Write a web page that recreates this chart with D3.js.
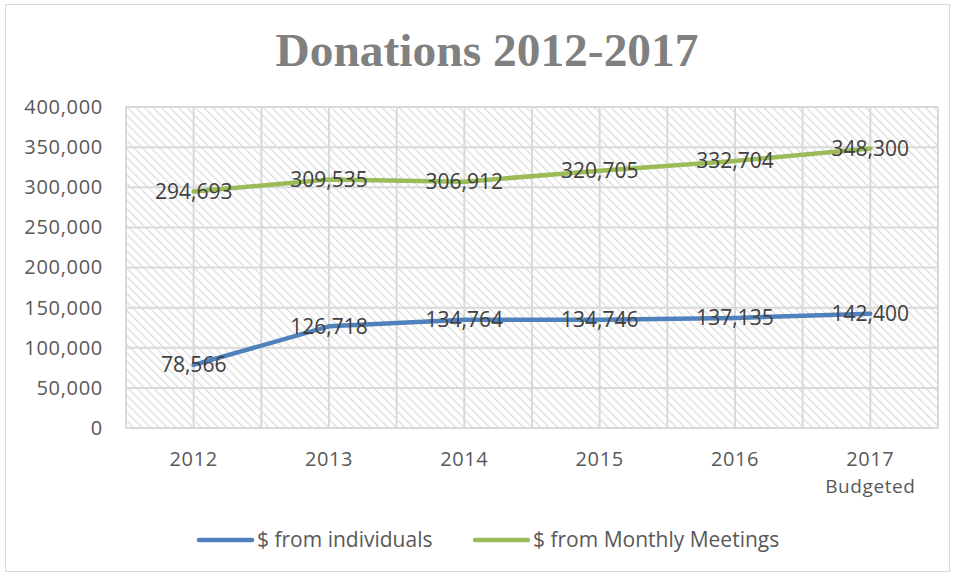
<!DOCTYPE html>
<html>
<head>
<meta charset="utf-8">
<script src="https://cdn.jsdelivr.net/npm/d3@7"></script>
<style>
  body { margin: 0; background: #fff; }
  text { font-family: "Open Sans", "Noto Sans", sans-serif; }
</style>
</head>
<body>
<svg id="chart"></svg>
<script>
const years = ["2012", "2013", "2014", "2015", "2016", "2017"];
const yearSub = ["", "", "", "", "", "Budgeted"];
const individuals = [78566, 126718, 134764, 134746, 137135, 142400];
const meetings = [294693, 309535, 306912, 320705, 332704, 348300];
const seriesNames = ["$ from individuals", "$ from Monthly Meetings"];
const seriesColors = ["#4f81bd", "#9bbb59"];
const yTicks = [0, 50000, 100000, 150000, 200000, 250000, 300000, 350000, 400000];

const width = 954, height = 576;
const margin = { top: 107, right: 16, bottom: 148, left: 126 };
const innerW = width - margin.left - margin.right;
const innerH = height - margin.top - margin.bottom;

const svg = d3.select("#chart").attr("width", width).attr("height", height);

// hatch pattern for plot background
const defs = svg.append("defs");
const pat = defs.append("pattern")
  .attr("id", "hatch")
  .attr("patternUnits", "userSpaceOnUse")
  .attr("width", 6)
  .attr("height", 6)
  .attr("patternTransform", "rotate(-45)");
pat.append("rect").attr("width", 6).attr("height", 6).attr("fill", "#fff");
pat.append("line")
  .attr("x1", 0).attr("y1", 0).attr("x2", 0).attr("y2", 6)
  .attr("stroke", "#dcdcdc").attr("stroke-width", 2.5);

// outer frame
svg.append("rect")
  .attr("x", 5.5).attr("y", 4.5)
  .attr("width", width - 10).attr("height", height - 9)
  .attr("fill", "#fff").attr("stroke", "#d9d9d9");

svg.append("text")
  .attr("x", 487).attr("y", 66)
  .attr("text-anchor", "middle")
  .attr("textLength", 423)
  .attr("lengthAdjust", "spacingAndGlyphs")
  .style("font-family", "'Liberation Serif', 'DejaVu Serif', serif")
  .style("font-weight", "bold")
  .style("font-size", "47px")
  .attr("fill", "#808080")
  .text("Donations 2012-2017");

const g = svg.append("g").attr("transform", `translate(${margin.left},${margin.top})`);

const x = d3.scaleBand().domain(years).range([0, innerW]);
const y = d3.scaleLinear().domain([0, 400000]).range([innerH, 0]);

g.append("rect").attr("width", innerW).attr("height", innerH).attr("fill", "url(#hatch)");

// gridlines: horizontal at ticks, vertical at band edges and centres
g.selectAll(".hgrid").data(yTicks).join("line")
  .attr("x1", 0).attr("x2", innerW)
  .attr("y1", d => y(d)).attr("y2", d => y(d))
  .attr("stroke", "#d9d9d9").attr("stroke-width", 2);

const vLines = [];
years.forEach(yr => {
  vLines.push(x(yr));
  vLines.push(x(yr) + x.bandwidth() / 2);
});
vLines.push(innerW);
g.selectAll(".vgrid").data(vLines).join("line")
  .attr("x1", d => d).attr("x2", d => d)
  .attr("y1", 0).attr("y2", innerH)
  .attr("stroke", "#d9d9d9").attr("stroke-width", 2);

// y axis labels
const yAxis = g.append("g")
  .call(d3.axisLeft(y).tickValues(yTicks).tickFormat(d3.format(",")).tickSize(0).tickPadding(23));
yAxis.select(".domain").remove();
yAxis.selectAll("text").style("font-size", "20px").attr("fill", "#595959")
  .style("letter-spacing", "0.7px")
  .style("font-family", "'Open Sans', sans-serif");

// x axis labels
const xAxis = g.append("g")
  .attr("transform", `translate(0,${innerH})`)
  .call(d3.axisBottom(x).tickSize(0).tickPadding(24));
xAxis.select(".domain").remove();
xAxis.selectAll("text").style("font-size", "20px").attr("fill", "#595959")
  .style("letter-spacing", "0.6px")
  .style("font-family", "'Open Sans', sans-serif");
xAxis.selectAll(".tick").append("text")
  .attr("y", 65).attr("fill", "#595959")
  .attr("text-anchor", "middle")
  .style("font-size", "19px")
  .style("letter-spacing", "0.6px")
  .style("font-family", "'Open Sans', sans-serif")
  .text((d, i) => yearSub[i]);

const cx = d => x(d) + x.bandwidth() / 2;
const line = d3.line().x(d => cx(d.year)).y(d => y(d.value));

[individuals, meetings].forEach((vals, si) => {
  const pts = years.map((yr, i) => ({ year: yr, value: vals[i] }));
  g.append("path").datum(pts)
    .attr("fill", "none")
    .attr("stroke", seriesColors[si])
    .attr("stroke-width", 4.5)
    .attr("stroke-linecap", "round")
    .attr("stroke-linejoin", "round")
    .attr("d", line);
  g.selectAll(".lbl" + si).data(pts).join("text")
    .attr("x", d => cx(d.year))
    .attr("y", d => y(d.value))
    .attr("dy", "0.35em")
    .attr("text-anchor", "middle")
    .style("font-size", "21px")
    .attr("fill", "#404040")
    .text(d => d3.format(",")(d.value));
});

// legend
const legend = svg.append("g").attr("transform", "translate(199,540)");
const legendX = [0, 276];
seriesNames.forEach((name, i) => {
  const lg = legend.append("g").attr("transform", `translate(${legendX[i]},0)`);
  lg.append("line").attr("x1", 0).attr("x2", 53).attr("y1", 0).attr("y2", 0)
    .attr("stroke", seriesColors[i]).attr("stroke-width", 4.5).attr("stroke-linecap", "round");
  lg.append("text").attr("x", 58).attr("dy", "0.35em")
    .style("font-size", "21px").attr("fill", "#595959").text(name);
});
</script>
</body>
</html>
